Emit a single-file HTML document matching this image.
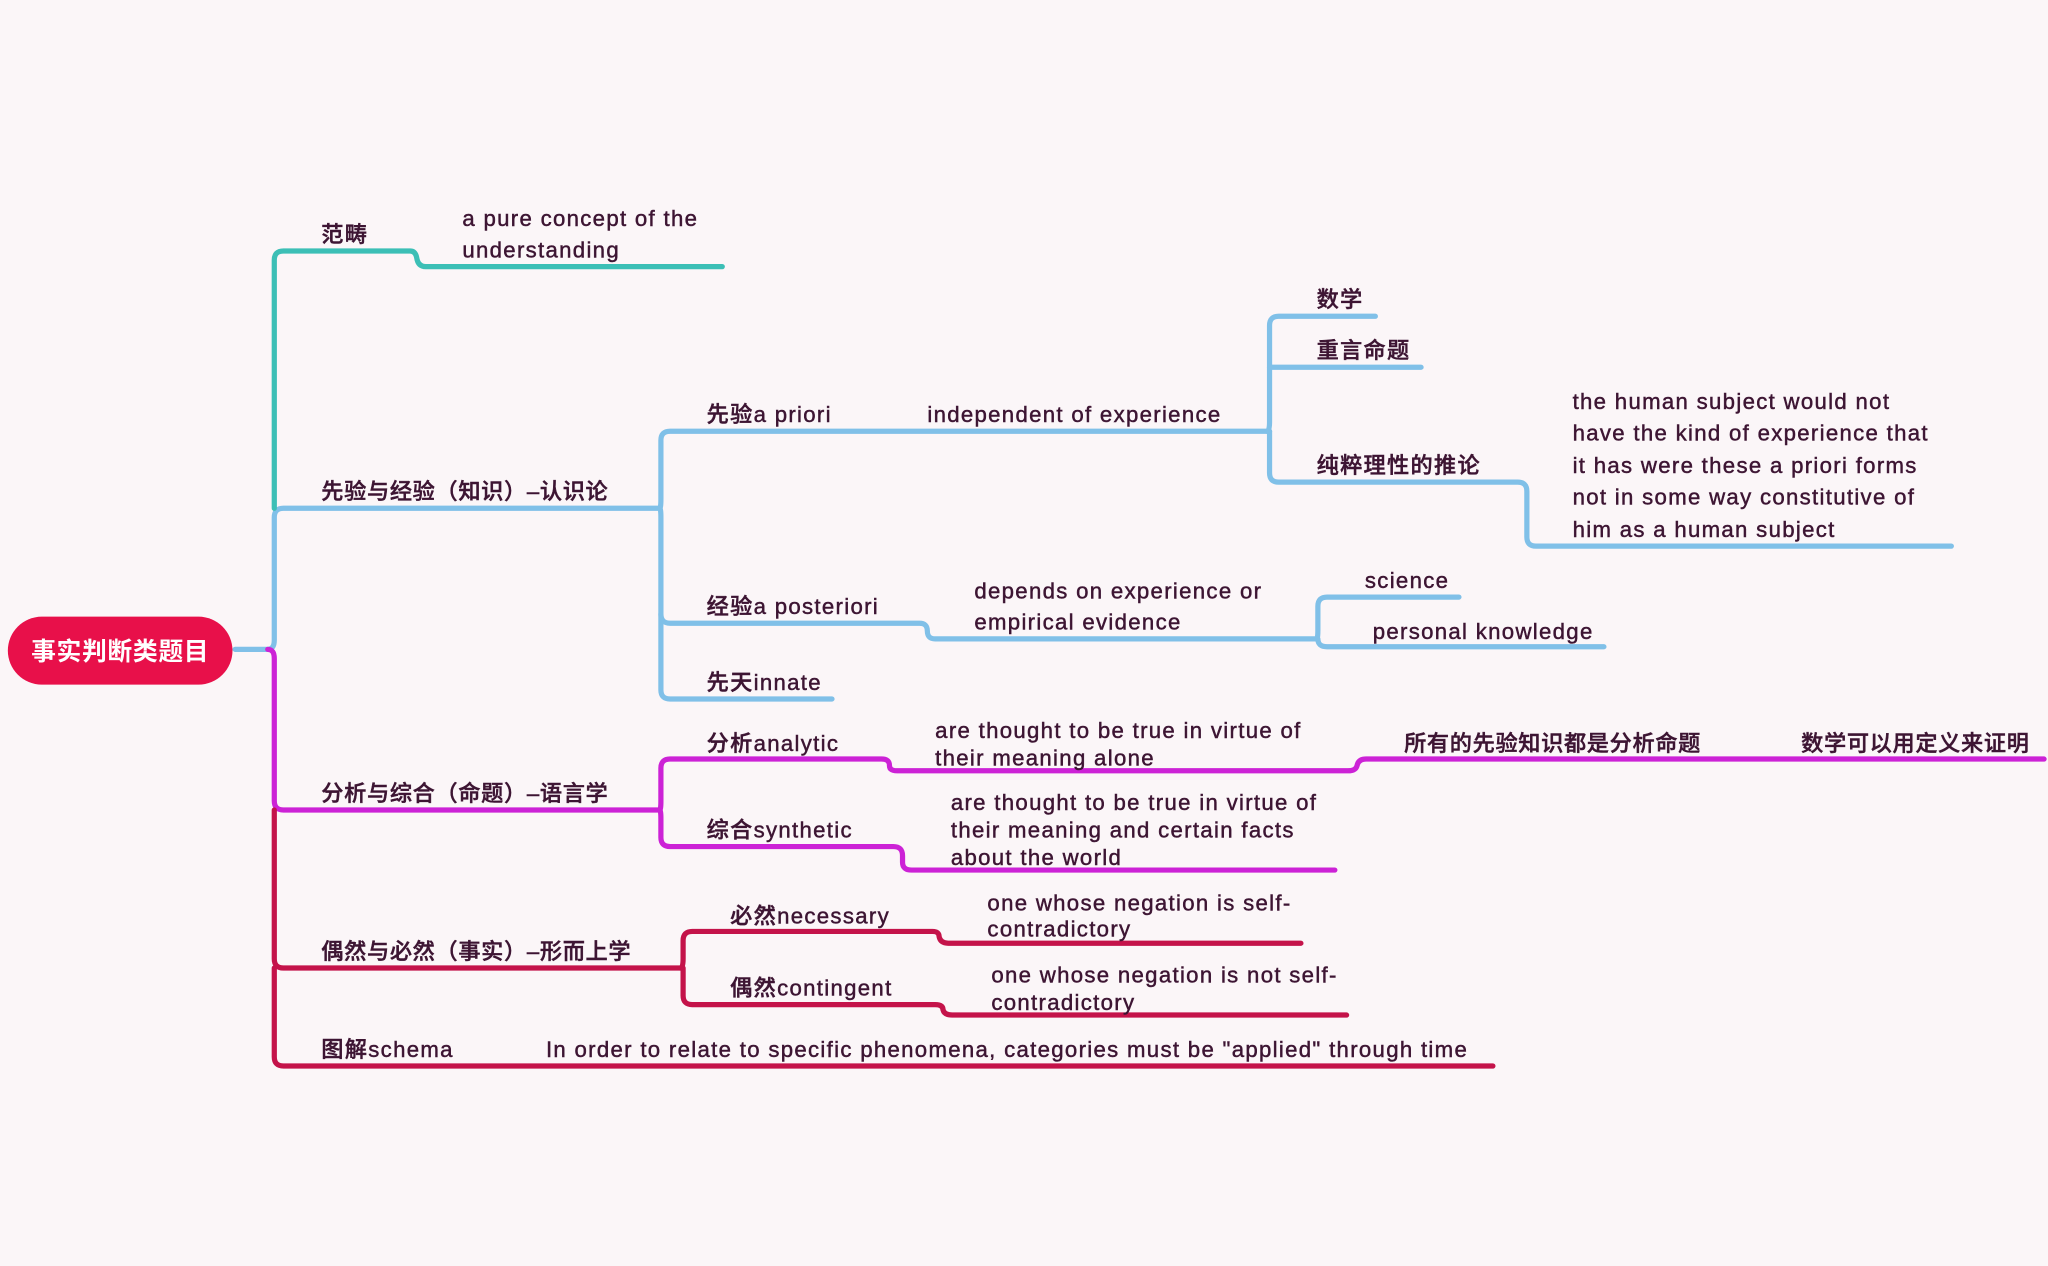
<!DOCTYPE html>
<html><head><meta charset="utf-8"><style>
html,body{margin:0;padding:0;background:#fbf6f8;}
svg{display:block}
text{font-family:"Liberation Sans","Noto Sans CJK SC",sans-serif;font-size:17px;fill:#3d1533;font-weight:500;letter-spacing:1px;stroke:#3d1533;stroke-width:0.35px}
.b{font-weight:bold}
path{fill:none;stroke-width:4;stroke-linecap:round;stroke-linejoin:round}
.t{stroke:#3cbfb6}.bl{stroke:#80c0e8}.m{stroke:#cc22d6}.c{stroke:#c4134a}
</style></head><body>
<svg width="2048" height="1266" viewBox="0 0 1568 969" xmlns="http://www.w3.org/2000/svg">
<rect width="1568" height="969" fill="#fbf6f8"/>
<path class="bl" d="M180 497 H205 Q210 497 210 490 V396 Q210 389 217 389 H505"/>
<path class="t" d="M210 389 V199 Q210 192 217 192 H314 Q318 192 319 197 Q320 204 326 204 H553"/>
<path class="m" d="M205 497 Q210 497 210 504 V613 Q210 620 217 620 H505"/>
<path class="c" d="M210 620 V734 Q210 741 217 741 H522"/>
<path class="c" d="M210 741 V809 Q210 816 217 816 H1143"/>
<path class="bl" d="M505 389 Q506 389 506 382 V337 Q506 330 513 330 H972"/>
<path class="bl" d="M505 389 Q506 389 506 396 V528 Q506 535 513 535 H637"/>
<path class="bl" d="M506 470 Q506 477 513 477 H704 Q710 477 710 483 Q710 489 716 489 H1008"/>
<path class="bl" d="M970 330 Q972 330 972 323 V249 Q972 242 979 242 H1053"/>
<path class="bl" d="M972 281 H1088"/>
<path class="bl" d="M972 330 V362 Q972 369 979 369 H1162 Q1169 369 1169 376 V411 Q1169 418 1176 418 H1494"/>
<path class="bl" d="M1008 489 Q1009 489 1009 482 V464 Q1009 457 1016 457 H1117"/>
<path class="bl" d="M1009 489 Q1009 495 1016 495 H1228"/>
<path class="m" d="M505 620 Q506 620 506 613 V588 Q506 581 513 581 H675 Q681 581 681 586 Q681 590 687 590 H1032 Q1038 590 1039 586 Q1040 581 1046 581 H1565"/>
<path class="m" d="M505 620 Q506 620 506 627 V641 Q506 648 513 648 H684 Q691 648 691 655 V660 Q691 666 698 666 H1022"/>
<path class="c" d="M521 741 Q523 741 523 734 V720 Q523 713 530 713 H714 Q719 713 719 717 Q720 722 726 722 H996"/>
<path class="c" d="M523 741 V762 Q523 769 530 769 H716 Q722 769 722 773 Q723 777 729 777 H1031"/>
<rect x="6" y="472" width="172" height="52" rx="26" fill="#e8104a"/>
<text x="92" y="505" text-anchor="middle" class="b" style="fill:#fff;stroke:none;font-size:19px;letter-spacing:0.5px">事实判断类题目</text>
<text x="246" y="185">范畴</text>
<text x="354" y="173">a pure concept of the</text>
<text x="354" y="197">understanding</text>
<text x="246" y="382" style="letter-spacing:0.5px">先验与经验（知识）–认识论</text>
<text x="541" y="323">先验a priori</text>
<text x="710" y="323">independent of experience</text>
<text x="1008" y="235">数学</text>
<text x="1008" y="274">重言命题</text>
<text x="1008" y="362">纯粹理性的推论</text>
<text x="1204" y="313">the human subject would not</text>
<text x="1204" y="337">have the kind of experience that</text>
<text x="1204" y="362">it has were these a priori forms</text>
<text x="1204" y="386">not in some way constitutive of</text>
<text x="1204" y="411">him as a human subject</text>
<text x="541" y="470">经验a posteriori</text>
<text x="746" y="458">depends on experience or</text>
<text x="746" y="482">empirical evidence</text>
<text x="1045" y="450">science</text>
<text x="1051" y="489">personal knowledge</text>
<text x="541" y="528">先天innate</text>
<text x="246" y="613" style="letter-spacing:0.5px">分析与综合（命题）–语言学</text>
<text x="541" y="575">分析analytic</text>
<text x="716" y="565">are thought to be true in virtue of</text>
<text x="716" y="586">their meaning alone</text>
<text x="1075" y="575" style="letter-spacing:0.5px">所有的先验知识都是分析命题</text>
<text x="1379" y="575" style="letter-spacing:0.5px">数学可以用定义来证明</text>
<text x="541" y="641">综合synthetic</text>
<text x="728" y="620">are thought to be true in virtue of</text>
<text x="728" y="641">their meaning and certain facts</text>
<text x="728" y="662">about the world</text>
<text x="246" y="734" style="letter-spacing:0.5px">偶然与必然（事实）–形而上学</text>
<text x="559" y="707">必然necessary</text>
<text x="756" y="697">one whose negation is self-</text>
<text x="756" y="717">contradictory</text>
<text x="559" y="762">偶然contingent</text>
<text x="759" y="752">one whose negation is not self-</text>
<text x="759" y="773">contradictory</text>
<text x="246" y="809">图解schema</text>
<text x="418" y="809">In order to relate to specific phenomena, categories must be "applied" through time</text>
</svg>
</body></html>
